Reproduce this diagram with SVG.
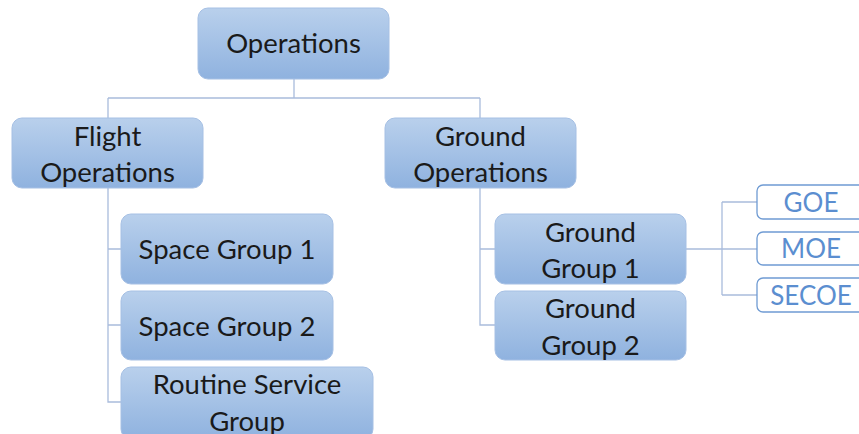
<svg xmlns="http://www.w3.org/2000/svg" width="859" height="434" viewBox="0 0 859 434">
<defs>
<linearGradient id="g" x1="0" y1="0" x2="0" y2="1">
<stop offset="0" stop-color="#b9d0ec"/>
<stop offset="1" stop-color="#8fb2df"/>
</linearGradient>
<style>
.n{fill:url(#g);stroke:#a6c0e4;stroke-width:1}
.t{font-family:Lato,"Liberation Sans",sans-serif;font-size:27.5px;fill:#1a1a1a;text-anchor:middle}
.w{fill:#ffffff;stroke:#6f9bd3;stroke-width:1.3}
.b{font-family:Lato,"Liberation Sans",sans-serif;font-size:26px;fill:#5b8ed0;text-anchor:middle}
.c{fill:none;stroke:#a9bcdc;stroke-width:1.3}
</style>
</defs>
<rect width="859" height="434" fill="#ffffff"/>
<g id="connectors">
<path class="c" d="M294 79V98M108 98H480M108 98V118M480 98V118"/>
<path class="c" d="M108 188V402H121M108 249H121M108 325H121"/>
<path class="c" d="M480 188V325H495M480 249H495"/>
<path class="c" d="M686 249H722M722 202V295M722 202H757M722 249H757M722 295H757"/>
</g>
<g id="operations"><rect class="n" x="198" y="8" width="191" height="71" rx="10"/><text class="t" x="293.5" y="53">Operations</text></g>
<g id="flight-operations"><rect class="n" x="12" y="118" width="191" height="70" rx="10"/><text class="t" x="107.5" y="146">Flight</text><text class="t" x="107.5" y="182">Operations</text></g>
<g id="ground-operations"><rect class="n" x="385" y="118" width="191" height="70" rx="10"/><text class="t" x="480.5" y="146">Ground</text><text class="t" x="480.5" y="182">Operations</text></g>
<g id="space-group-1"><rect class="n" x="121" y="214" width="212" height="70" rx="10"/><text class="t" x="227" y="259">Space Group 1</text></g>
<g id="space-group-2"><rect class="n" x="121" y="291" width="212" height="69" rx="10"/><text class="t" x="227" y="336">Space Group 2</text></g>
<g id="routine-service-group"><rect class="n" x="121" y="367" width="252" height="72" rx="10"/><text class="t" x="247" y="394">Routine Service</text><text class="t" x="247" y="431">Group</text></g>
<g id="ground-group-1"><rect class="n" x="495" y="214" width="191" height="70" rx="10"/><text class="t" x="590.5" y="242">Ground</text><text class="t" x="590.5" y="278">Group 1</text></g>
<g id="ground-group-2"><rect class="n" x="495" y="291" width="191" height="69" rx="10"/><text class="t" x="590.5" y="318">Ground</text><text class="t" x="590.5" y="355">Group 2</text></g>
<g id="goe"><rect class="w" x="757" y="185" width="110" height="34" rx="6"/><text class="b" x="811" y="212">GOE</text></g>
<g id="moe"><rect class="w" x="757" y="232" width="110" height="33" rx="6"/><text class="b" x="811" y="258">MOE</text></g>
<g id="secoe"><rect class="w" x="757" y="278" width="110" height="34" rx="6"/><text class="b" x="811" y="305">SECOE</text></g>
</svg>
